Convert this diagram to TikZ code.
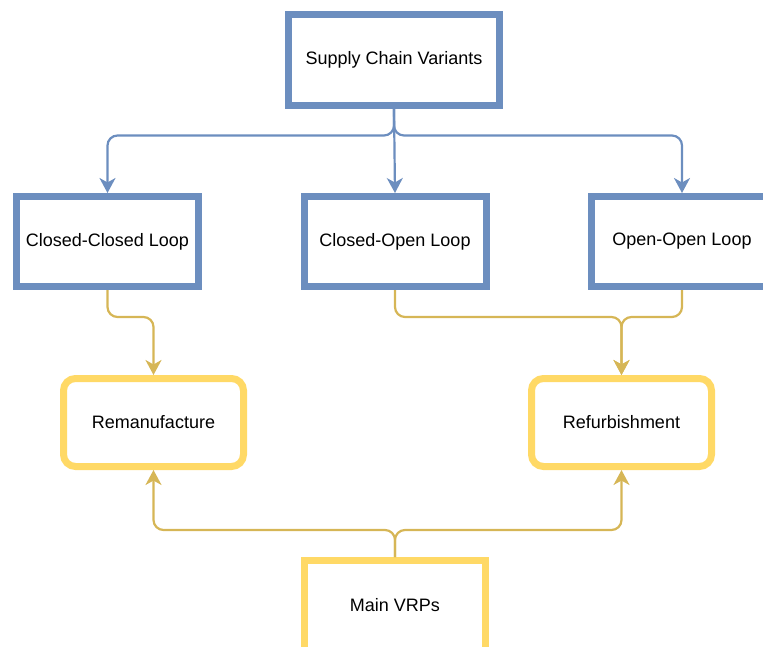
\documentclass[tikz,border=0pt]{standalone}
\usepackage{fontspec}
\setmainfont{Liberation Sans}
\usetikzlibrary{arrows.meta}
\definecolor{bluebd}{HTML}{6C8EBF}
\definecolor{yellowbd}{HTML}{FFD966}
\definecolor{yellowedge}{HTML}{D6B656}
\tikzset{
  bluebox/.style={draw=bluebd, line width=7pt, fill=white, minimum width=182pt, minimum height=90pt, inner sep=0pt, font=\fontsize{18}{21}\selectfont},
  yelbox/.style={draw=yellowbd, line width=7pt, fill=white, rounded corners=12pt, minimum width=180pt, minimum height=88pt, inner sep=0pt, font=\fontsize{18}{21}\selectfont},
  bluelink/.style={draw=bluebd, line width=2.2pt, rounded corners=10pt, -{Stealth[length=15pt,width=16pt,inset=4.5pt]}},
  yellink/.style={draw=yellowedge, line width=2.2pt, rounded corners=10pt, -{Stealth[length=15pt,width=16pt,inset=4.5pt]}}
}
\begin{document}
\begin{tikzpicture}[x=1pt,y=-1pt]
\clip (0,0) rectangle (763,646);
\useasboundingbox (0,0) rectangle (763,646);
\node[bluebox, minimum width=211pt, minimum height=91pt] (top) at (394,59.5) {Supply Chain Variants};
\node[bluebox] (ccl) at (107.5,241.5) {Closed-Closed Loop};
\node[bluebox] (col) at (395,241.5) {Closed-Open Loop};
\node[bluebox] (ool) at (682,241.5) {Open-Open Loop};
\node[yelbox] (reman) at (153.5,422.5) {Remanufacture};
\node[yelbox] (refurb) at (621.5,422.5) {Refurbishment};
\node[bluebox, draw=yellowbd, minimum width=181pt] (vrp) at (395,605.5) {Main VRPs};
\draw[bluelink] (top.south) -- ++(0,27) -| (ccl.north);
\draw[bluelink] (top.south) -- (col.north);
\draw[bluelink] (top.south) -- ++(0,27) -| (ool.north);
\draw[yellink] (ccl.south) -- ++(0,27) -| (reman.north);
\draw[yellink] (col.south) -- ++(0,27) -| (refurb.north);
\draw[yellink] (ool.south) -- ++(0,27) -| (refurb.north);
\draw[yellink] (vrp.north) -- ++(0,-27) -| (reman.south);
\draw[yellink] (vrp.north) -- ++(0,-27) -| (refurb.south);
\end{tikzpicture}
\end{document}
